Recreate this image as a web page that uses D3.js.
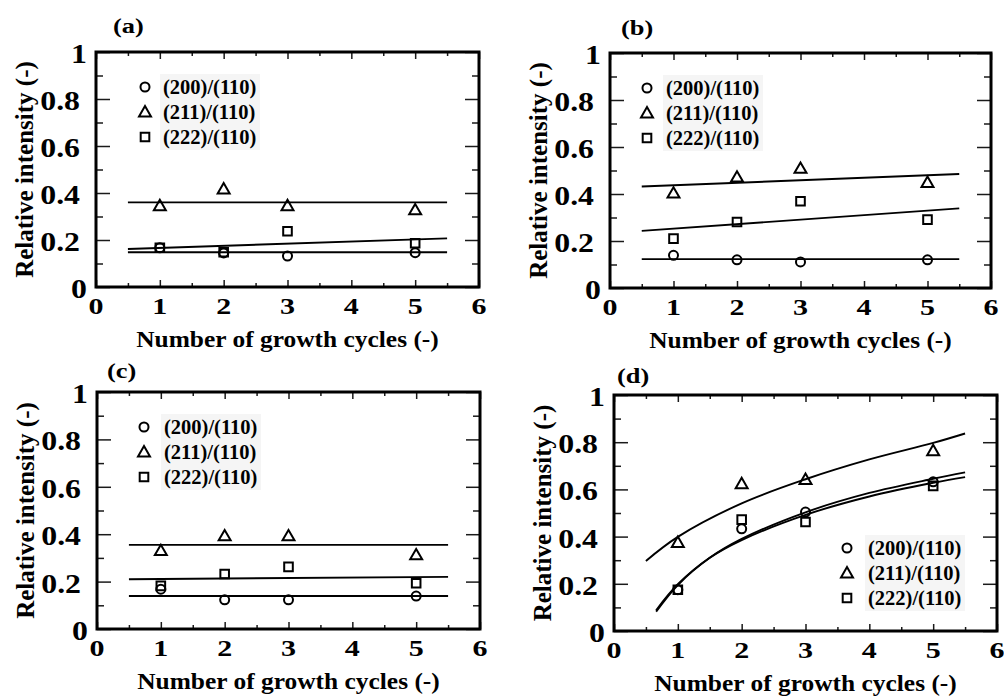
<!DOCTYPE html>
<html>
<head>
<meta charset="utf-8">
<script src="https://cdn.jsdelivr.net/npm/d3@7"></script>
<style>
  html, body { margin: 0; padding: 0; background: #fff; }
  svg text { font-family: "Liberation Serif", "DejaVu Serif", serif; font-weight: 700; }
</style>
</head>
<body>
<svg id="chart" width="1004" height="697" style="display:block"></svg>
<script>
// ---- data ----
const cycles = [1, 2, 3, 5];
const seriesNames = ["(200)/(110)", "(211)/(110)", "(222)/(110)"];
const panelLabels = ["(a)", "(b)", "(c)", "(d)"];
const xTickValues = [0, 1, 2, 3, 4, 5, 6];
const yTickValues = [0, 0.2, 0.4, 0.6, 0.8, 1];
const yTickLabels = ["0", "0.2", "0.4", "0.6", "0.8", "1"];
const xTitle = "Number of growth cycles (-)";
const yTitle = "Relative intensity (-)";

// panel (a)
const a200 = [0.167, 0.145, 0.132, 0.146];
const a211 = [0.346, 0.417, 0.346, 0.328];
const a222 = [0.167, 0.148, 0.237, 0.186];
const aFitX = [0.5, 5.5];
const aFit200 = [0.148, 0.148];
const aFit211 = [0.360, 0.360];
const aFit222 = [0.162, 0.207];

// panel (b)
const b200 = [0.139, 0.120, 0.111, 0.120];
const b211 = [0.404, 0.472, 0.509, 0.449];
const b222 = [0.210, 0.281, 0.369, 0.291];
const bFitX = [0.5, 5.5];
const bFit200 = [0.123, 0.123];
const bFit211 = [0.432, 0.485];
const bFit222 = [0.243, 0.339];

// panel (c)
const c200 = [0.168, 0.123, 0.123, 0.139];
const c211 = [0.331, 0.393, 0.393, 0.313];
const c222 = [0.182, 0.232, 0.262, 0.193];
const cFitX = [0.5, 5.5];
const cFit200 = [0.139, 0.139];
const cFit211 = [0.355, 0.355];
const cFit222 = [0.210, 0.220];

// panel (d): curved fits, read at several cycle numbers
const d200 = [0.175, 0.433, 0.504, 0.632];
const d211 = [0.375, 0.624, 0.642, 0.764];
const d222 = [0.175, 0.472, 0.462, 0.615];
const dFitX211 = [0.5, 1, 2, 3, 4, 5, 5.5];
const dFit211 = [0.297, 0.399, 0.541, 0.643, 0.727, 0.797, 0.837];
const dFitXLow = [0.66, 1, 1.5, 2, 3, 4, 5, 5.5];
const dFit200 = [0.082, 0.195, 0.310, 0.390, 0.503, 0.585, 0.645, 0.672];
const dFit222 = [0.088, 0.198, 0.310, 0.385, 0.492, 0.570, 0.628, 0.652];

// ---- panel layout ----
const panels = [
  { box: [96, 52, 479, 287],  title: [113, 33],  legend: [145, 87, 163],
    pts: [a200, a211, a222], fits: [[aFitX, aFit200], [aFitX, aFit211], [aFitX, aFit222]], curved: false },
  { box: [610, 53, 991, 288], title: [621, 35],  legend: [647, 88, 666],
    pts: [b200, b211, b222], fits: [[bFitX, bFit200], [bFitX, bFit211], [bFitX, bFit222]], curved: false },
  { box: [97, 392, 480, 629], title: [107, 378], legend: [144, 427, 164],
    pts: [c200, c211, c222], fits: [[cFitX, cFit200], [cFitX, cFit211], [cFitX, cFit222]], curved: false },
  { box: [614, 395, 997, 631], title: [617, 383], legend: [847, 548, 868],
    pts: [d200, d211, d222], fits: [[dFitXLow, dFit200], [dFitX211, dFit211], [dFitXLow, dFit222]], curved: true }
];

const svg = d3.select("#chart");
const FONT = "'Liberation Serif', 'DejaVu Serif', serif";
const markerShapes = [d3.symbolCircle, d3.symbolTriangle, d3.symbolSquare];
const markerSizes = [64, 62, 74];

function stretchedText(g, x, y, str, size, sx, anchor) {
  return g.append("text")
    .attr("transform", `translate(${x},${y}) scale(${sx},1)`)
    .attr("text-anchor", anchor)
    .attr("font-family", FONT)
    .attr("font-weight", "bold")
    .attr("font-size", size)
    .attr("fill", "#000")
    .text(str);
}

function marker(g, i, x, y) {
  g.append("path")
    .attr("d", d3.symbol().type(markerShapes[i]).size(markerSizes[i])())
    .attr("transform", `translate(${x},${y + (i === 1 ? 1 : 0)})`)
    .attr("fill", "none")
    .attr("stroke", "#000")
    .attr("stroke-width", 2);
}

panels.forEach((p, pi) => {
  const [L, T, R, B] = p.box;
  const g = svg.append("g");
  const x = d3.scaleLinear().domain([0, 6]).range([L, R]);
  const y = d3.scaleLinear().domain([0, 1]).range([B, T]);

  const xMinor = d3.range(0.5, 6, 1);
  const yMinor = d3.range(0.1, 1, 0.2);

  // inward tick marks on all four sides
  const tickSets = [
    [d3.axisBottom(x).tickValues(xTickValues).tickSize(-7), `translate(0,${B})`],
    [d3.axisBottom(x).tickValues(xMinor).tickSize(-4), `translate(0,${B})`],
    [d3.axisTop(x).tickValues(xTickValues).tickSize(-7), `translate(0,${T})`],
    [d3.axisTop(x).tickValues(xMinor).tickSize(-4), `translate(0,${T})`],
    [d3.axisLeft(y).tickValues(yTickValues).tickSize(-14), `translate(${L},0)`],
    [d3.axisLeft(y).tickValues(yMinor).tickSize(-7), `translate(${L},0)`],
    [d3.axisRight(y).tickValues(yTickValues).tickSize(-14), `translate(${R},0)`],
    [d3.axisRight(y).tickValues(yMinor).tickSize(-7), `translate(${R},0)`]
  ];
  tickSets.forEach(([ax, tr]) => {
    const a = g.append("g").attr("transform", tr).call(ax.tickFormat("").tickSizeOuter(0));
    a.select(".domain").remove();
    a.selectAll("line").attr("stroke", "#1a1a1a").attr("stroke-width", 1.5);
  });

  // tick labels
  xTickValues.forEach(v => stretchedText(g, x(v), B + 27, String(v), 24, 1.25, "middle"));
  yTickValues.forEach((v, i) => {
    const lab = yTickLabels[i];
    const off = lab.length === 1 ? 9 : 16;
    stretchedText(g, L - off, y(v) + 11, lab, 26.5, 1.2, "end");
  });

  // axis titles
  stretchedText(g, (L + R) / 2, B + 60, xTitle, 22.5, 1.13, "middle");
  g.append("text")
    .attr("transform", `translate(${L - 71},${(T + B) / 2}) rotate(-90)`)
    .attr("text-anchor", "middle")
    .attr("dy", "0.33em")
    .attr("font-family", FONT)
    .attr("font-weight", "bold")
    .attr("font-size", 25)
    .text(yTitle);

  // panel letter
  stretchedText(g, p.title[0], p.title[1], panelLabels[pi], 22, 1.2, "start");

  // fitted lines / curves
  const line = d3.line()
    .x(d => x(d[0])).y(d => y(d[1]))
    .curve(p.curved ? d3.curveCatmullRom.alpha(0.5) : d3.curveLinear);
  p.fits.forEach(([fx, fy]) => {
    g.append("path")
      .attr("d", line(fx.map((v, k) => [v, fy[k]])))
      .attr("fill", "none")
      .attr("stroke", "#000")
      .attr("stroke-width", 1.9);
  });

  // data markers
  p.pts.forEach((vals, si) => {
    vals.forEach((v, k) => marker(g, si, x(cycles[k]), y(v)));
  });

  // legend
  const [mx, my, tx] = p.legend;
  g.append("rect")
    .attr("x", tx - 3).attr("y", my - 13)
    .attr("width", 100).attr("height", 76)
    .attr("fill", "#f5f5f5");
  seriesNames.forEach((name, si) => {
    const ry = my + si * 25;
    marker(g, si, mx, ry);
    g.append("text")
      .attr("x", tx).attr("y", ry + 7)
      .attr("font-family", FONT)
      .attr("font-weight", "bold")
      .attr("font-size", 20.5)
      .text(name);
  });

  // frame
  g.append("rect")
    .attr("x", L).attr("y", T)
    .attr("width", R - L).attr("height", B - T)
    .attr("fill", "none")
    .attr("stroke", "#000")
    .attr("stroke-width", 3);
});
</script>
</body>
</html>
